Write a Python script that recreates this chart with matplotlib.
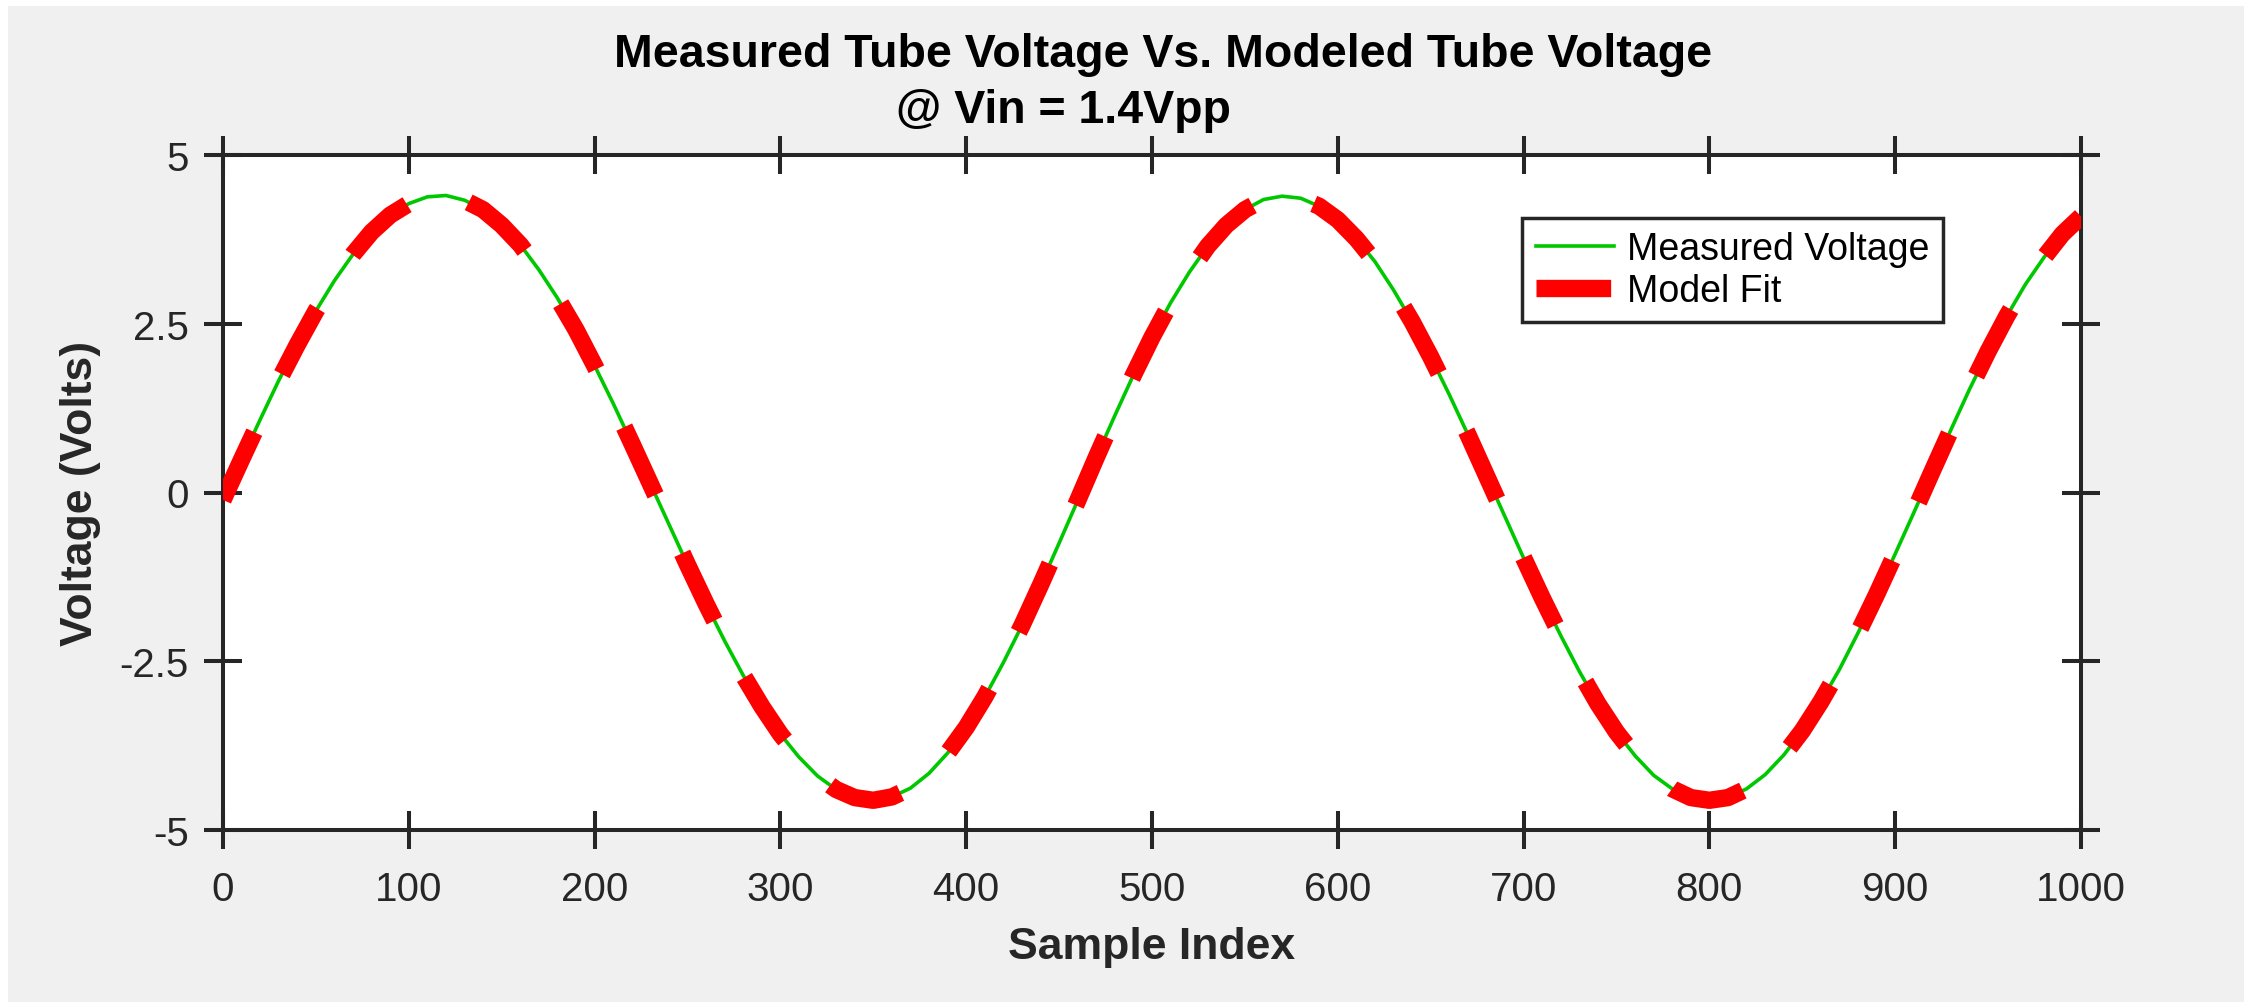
import matplotlib.pyplot as plt
from matplotlib.patches import Rectangle

# sample index of every reading (every 10th sample)
sample_index = list(range(0, 1001, 10))

# measured tube voltage
measured_voltage = [
    -0.11, 0.49, 1.08, 1.66, 2.19, 2.69, 3.14, 3.53, 3.86, 4.11,
    4.28, 4.38, 4.40, 4.33, 4.19, 3.96, 3.67, 3.30, 2.88, 2.41,
    1.88, 1.32, 0.73, 0.13, -0.47, -1.07, -1.65, -2.20, -2.71, -3.17,
    -3.58, -3.92, -4.20, -4.40, -4.52, -4.56, -4.51, -4.38, -4.16, -3.86,
    -3.48, -3.03, -2.52, -1.97, -1.37, -0.75, -0.12, 0.52, 1.14, 1.74,
    2.30, 2.81, 3.26, 3.65, 3.96, 4.19, 4.34, 4.39, 4.36, 4.24,
    4.04, 3.76, 3.42, 3.00, 2.53, 2.01, 1.45, 0.86, 0.25, -0.36,
    -0.97, -1.56, -2.12, -2.65, -3.13, -3.55, -3.90, -4.19, -4.39, -4.52,
    -4.56, -4.52, -4.39, -4.18, -3.89, -3.53, -3.10, -2.62, -2.08, -1.51,
    -0.91, -0.30, 0.32, 0.93, 1.53, 2.09, 2.61, 3.08, 3.48, 3.83,
    4.09,
]

# the model fit lies right on top of the measurement
model_voltage = list(measured_voltage)

x_ticks = [0, 100, 200, 300, 400, 500, 600, 700, 800, 900, 1000]
y_ticks = [-5, -2.5, 0, 2.5, 5]
y_tick_labels = ['-5', '-2.5', '0', '2.5', '5']


def main():
    plt.rcParams['font.family'] = ['Liberation Sans', 'DejaVu Sans']
    plt.rcParams['axes.unicode_minus'] = False
    dark = '#262626'

    fig = plt.figure(figsize=(22.44, 10.03), dpi=100)
    fig.patch.set_facecolor('white')
    # matlab style grey figure, small white strip on left/top
    fig.add_artist(Rectangle((8 / 2244, 0), 1, 1 - 7 / 1003, transform=fig.transFigure,
                             facecolor='#F0F0F0', edgecolor='none', zorder=-10))

    ax = fig.add_axes([223 / 2244, 1 - 831 / 1003, 1858 / 2244, 675 / 1003])
    ax.set_facecolor('white')

    ax.plot(sample_index, measured_voltage, color='#00C800', lw=2.6, label='Measured Voltage',
            zorder=2)
    ax.plot(sample_index, model_voltage, color='#FF0000', lw=12.5, dashes=(4.3, 3.7),
            dash_capstyle='butt', label='Model Fit', zorder=3)

    ax.set_xlim(0, 1000)
    ax.set_ylim(-5, 5)
    ax.set_xticks(x_ticks)
    ax.set_yticks(y_ticks)
    ax.set_yticklabels(y_tick_labels)

    for sp in ax.spines.values():
        sp.set_linewidth(2.9)
        sp.set_color(dark)
    ax.tick_params(direction='inout', length=27.4, width=2.9, color=dark, labelcolor=dark,
                   labelsize=29, pad=15, top=True, right=True)
    ax.tick_params(axis='y', pad=11)

    ax.set_xlabel('Sample Index', fontsize=32, fontweight='bold', color=dark, va='center')
    ax.xaxis.set_label_coords(0.5, -0.172)
    ax.set_ylabel('Voltage (Volts)', fontsize=32, fontweight='bold', color=dark, va='center')
    ax.yaxis.set_label_coords(-0.0765, 0.5)

    # two line title, lines are not centred on the same spot in the original
    fig.text(1163 / 2244, 1 - 67 / 1003, 'Measured Tube Voltage Vs. Modeled Tube Voltage',
             fontsize=33.5, fontweight='bold', ha='center', va='baseline')
    fig.text(1063 / 2244, 1 - 123 / 1003, '@ Vin = 1.4Vpp',
             fontsize=33.5, fontweight='bold', ha='center', va='baseline')

    leg = ax.legend(loc='upper right', bbox_to_anchor=(0.9257, 0.9067), borderaxespad=0,
                    fontsize=27, handlelength=2.1, handletextpad=0.35, labelspacing=0.15,
                    borderpad=0.35, fancybox=False, framealpha=1)
    leg.get_frame().set_edgecolor(dark)
    leg.get_frame().set_linewidth(2.5)

    fig.savefig('out.png', dpi=100)


if __name__ == '__main__':
    main()
